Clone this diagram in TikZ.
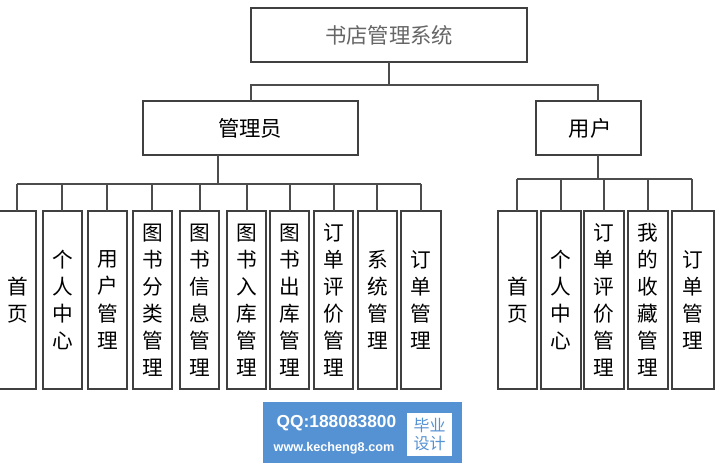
\documentclass[tikz,border=0pt]{standalone}
\usepackage{fontspec}
\setmainfont{Noto Sans CJK SC}
\setsansfont{Liberation Sans}
\begin{document}
\begin{tikzpicture}[x=0.75pt,y=-0.75pt,
  bx/.style={draw=black!75,line width=0.9pt},
  ln/.style={draw=black!70,line width=0.8pt},
  vt/.style={font=\fontsize{15.5}{20.3}\selectfont,align=center,inner sep=0pt}]
\useasboundingbox (0,0) rectangle (726,468);
\fill[white] (0,0) rectangle (726,468);
% top
\draw[bx] (251,8) rectangle (527,62);
\node[font=\fontsize{16}{18}\selectfont,text=black!60] (root) at (389,35) {书店管理系统};
\draw[bx] (143,101) rectangle (358,155);
\node[font=\fontsize{16}{18}\selectfont] (adm) at (250,128) {管理员};
\draw[bx] (536,101) rectangle (641,155);
\node[font=\fontsize{16}{18}\selectfont] (usr) at (590,128) {用户};
\draw[ln] (389,62) -- (389,85);
\draw[ln] (251,101) -- (251,85) -- (598,85) -- (598,101);
\draw[ln] (218,155) -- (218,184);
\draw[ln] (598,155) -- (598,179);
% left leaves
\draw[ln] (17,184) -- (421,184);
\foreach \a/\b/\d/\t in {-1/36/17/首\\页, 43/82/62/个\\人\\中\\心, 88/127/107/用\\户\\管\\理, 133/172/152/图\\书\\分\\类\\管\\理, 180/219/200/图\\书\\信\\息\\管\\理, 227/266/247/图\\书\\入\\库\\管\\理, 270/309/290/图\\书\\出\\库\\管\\理, 314/353/334/订\\单\\评\\价\\管\\理, 358/397/377/系\\统\\管\\理, 401/441/421/订\\单\\管\\理}{
  \draw[bx] (\a,211) rectangle (\b,389);
  \draw[ln] (\d,184) -- (\d,211);
  \node[vt] at ({(\a+\b)/2},300) {\t};
}
% right leaves
\draw[ln] (517,179) -- (692,179);
\foreach \a/\b/\d/\t in {498/537/517/首\\页, 541/581/561/个\\人\\中\\心, 584/624/604/订\\单\\评\\价\\管\\理, 628/668/648/我\\的\\收\\藏\\管\\理, 672/714/692/订\\单\\管\\理}{
  \draw[bx] (\a,211) rectangle (\b,389);
  \draw[ln] (\d,179) -- (\d,211);
  \node[vt] at ({(\a+\b)/2},300) {\t};
}
% watermark
\fill[cyan!55!blue!70] (263,402) rectangle (462,463);
\node[text=white,font=\sffamily\bfseries\fontsize{13}{15}\selectfont,anchor=west] (qq) at (272,423) {QQ:188083800};
\node[text=white,font=\sffamily\bfseries\fontsize{9.5}{11}\selectfont,anchor=west] (www) at (269,448) {www.kecheng8.com};
\fill[white] (407,413) rectangle (452,456);
\node[text=cyan!55!blue!70,font=\fontsize{12}{14}\selectfont,align=center,inner sep=0pt] (bs) at (429.5,434.5) {毕业\\设计};
\end{tikzpicture}
\end{document}
